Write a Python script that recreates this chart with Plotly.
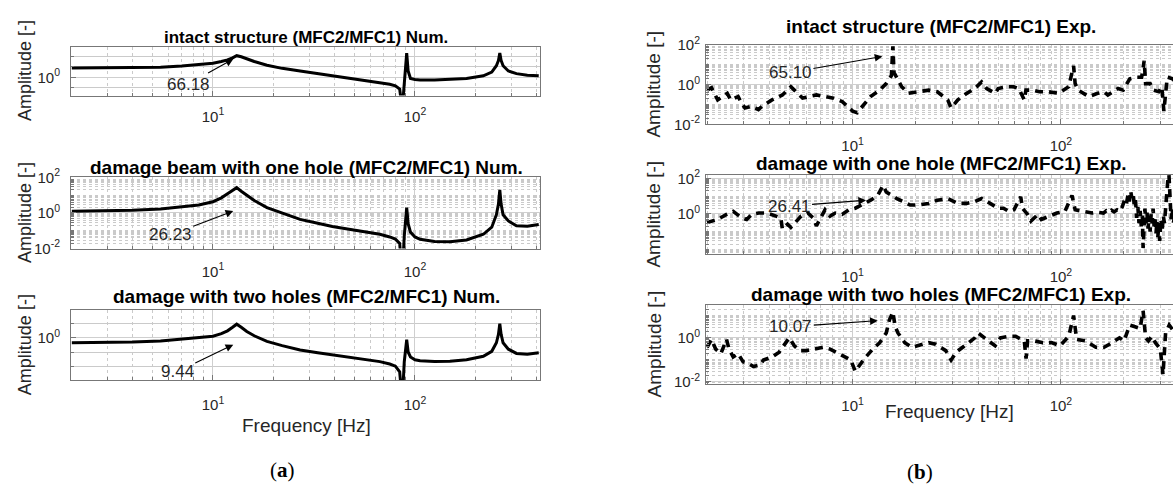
import math
import plotly.graph_objects as go

# ---------------- data ----------------
FREQ_NUM = [2, 3, 4, 5.5, 7, 8.5, 10, 11, 11.8, 12.5, 13.1, 13.8, 14.7, 16, 18.5, 22, 27, 33, 39, 48,
            58, 67, 75, 80, 84, 86.5, 88.5, 90, 91, 92.5, 95, 100, 106, 125, 149, 180, 218, 240, 253,
            259, 263, 267, 273, 290, 318, 360, 410]
AMP_NUM_INTACT = [7.59, 7.76, 7.94, 9.12, 12.0, 15.8, 21.4, 31.6, 44.7, 70.8, 112, 89.1, 56.2, 31.6,
                  14.1, 7.08, 3.98, 2.24, 1.51, 0.891, 0.501, 0.316, 0.224, 0.158, 0.0794, 0.001,
                  0.158, 6.31, 200, 3.98, 0.794, 0.631, 0.562, 0.562, 0.631, 0.794, 1.41, 3.16, 12.6,
                  39.8, 200, 39.8, 12.6, 3.98, 2.24, 1.58, 1.41]
AMP_NUM_ONE_HOLE = [1.23, 1.32, 1.41, 1.66, 2.14, 2.82, 4.27, 7.08, 12.0, 19.1, 26.3, 16.6, 9.77, 5.01,
                    2.0, 0.955, 0.437, 0.263, 0.174, 0.117, 0.0832, 0.0631, 0.0447, 0.0339, 0.0195,
                    0.000316, 0.0501, 0.398, 2.0, 0.251, 0.0832, 0.0447, 0.0331, 0.0251, 0.024, 0.0302,
                    0.0631, 0.158, 0.794, 3.16, 20.0, 3.16, 0.794, 0.355, 0.191, 0.178, 0.224]
AMP_NUM_TWO_HOLES = [0.457, 0.479, 0.513, 0.603, 0.794, 1.0, 1.32, 2.0, 3.16, 5.62, 9.33, 5.62, 2.82,
                     1.41, 0.562, 0.282, 0.141, 0.0891, 0.0631, 0.0417, 0.0282, 0.0209, 0.0141, 0.01,
                     0.00398, 0.0000316, 0.02, 0.126, 0.759, 0.1, 0.0447, 0.0282, 0.024, 0.0209,
                     0.0219, 0.0282, 0.0501, 0.112, 0.447, 1.78, 10.0, 1.78, 0.447, 0.158, 0.0794,
                     0.0708, 0.0891]

FREQ_EXP_INTACT = [2.0, 2.1, 2.25, 2.5, 2.6, 2.82, 2.93, 3.04, 3.27, 3.53, 3.67, 4.1, 4.6, 5.05, 5.25,
                   5.75, 6.2, 6.7, 7.4, 8.1, 8.9, 10.0, 10.5, 11.4, 12.2, 13.5, 14.5, 15.35, 15.6, 15.8,
                   16.3, 17.2, 18.5, 20.7, 23.2, 25.5, 28.6, 29.7, 32, 35.3, 38.6, 41.6, 44, 48.3, 50,
                   55.2, 59.3, 62.8, 66.7, 67.9, 73.3, 78.9, 86.7, 97.4, 109, 115, 117, 121, 136, 150,
                   161, 168, 188, 199, 214, 231, 244, 251, 255, 268, 278, 295, 305, 312, 324, 343, 360,
                   400]
AMP_EXP_INTACT = [0.525, 0.692, 0.17, 0.363, 0.17, 0.251, 0.117, 0.0676, 0.0813, 0.0562, 0.0813, 0.17,
                  0.302, 0.776, 0.525, 0.209, 0.251, 0.302, 0.251, 0.209, 0.141, 0.0468, 0.0389, 0.1,
                  0.251, 0.525, 1.12, 2.82, 83.2, 3.98, 2.34, 0.776, 0.363, 0.437, 0.525, 0.437, 0.17,
                  0.0676, 0.17, 0.363, 0.631, 1.35, 0.631, 0.363, 0.631, 0.776, 0.776, 0.631, 0.17,
                  0.525, 0.525, 0.437, 0.437, 0.363, 0.776, 8.71, 1.12, 0.525, 0.251, 0.363, 0.437,
                  0.302, 0.631, 0.525, 1.95, 2.34, 2.34, 15.5, 1.12, 1.12, 0.525, 0.437, 0.776, 0.0468,
                  2.34, 1.95, 1.26, 1.58]

FREQ_EXP_ONE = [2.0, 2.1, 2.25, 2.48, 2.67, 2.93, 3.1, 3.28, 3.54, 3.89, 4.27, 4.52, 4.6, 4.87, 5.05,
                5.35, 5.66, 6.1, 6.46, 6.7, 6.97, 7.37, 7.79, 8.25, 8.9, 9.6, 10.3, 11.4, 12.2, 13.2,
                14.0, 14.5, 15.35, 16.3, 17.5, 18.9, 20.7, 23.2, 25.5, 28.6, 32, 35.3, 38.6, 41.6, 45.7,
                50, 53, 56.2, 59.5, 64.1, 65.4, 69.2, 71.8, 77.6, 80.5, 88.5, 95.6, 104.5, 113, 117, 126,
                141, 150, 160, 165, 170, 175, 180, 186, 192, 197, 202, 206, 210, 213, 216, 219, 222, 225,
                228, 231, 234, 237, 240, 243, 246, 248, 250, 253, 256, 259, 262, 265, 268, 271, 274, 277,
                280, 283, 286, 289, 292, 295, 298, 302, 306, 310, 314, 318, 322, 326, 330, 334, 338, 342,
                346, 360, 380, 400]
AMP_EXP_ONE = [0.324, 0.398, 0.49, 0.933, 1.38, 0.603, 0.49, 0.933, 1.12, 1.12, 0.759, 0.603, 0.141,
               0.263, 0.174, 0.398, 0.759, 1.12, 0.603, 0.214, 0.49, 1.7, 0.759, 1.12, 0.933, 1.7, 2.09,
               3.89, 5.89, 11.0, 40.0, 17.0, 11.0, 7.24, 4.9, 3.16, 3.16, 3.89, 5.89, 7.24, 3.89, 3.89,
               4.9, 7.24, 3.89, 2.09, 2.09, 1.38, 1.7, 9.12, 2.09, 0.933, 0.398, 0.933, 0.49, 0.759,
               1.12, 1.38, 11.0, 1.7, 1.38, 1.12, 1.25, 1.12, 1.5, 1.2, 1.6, 1.3, 1.7, 1.4, 2.5, 6.0,
               3.5, 12.0, 5.0, 20.0, 8.0, 15.0, 3.0, 6.0, 0.6, 2.5, 0.3, 1.5, 0.2, 0.8, 0.012, 0.6, 2.0,
               0.3, 1.2, 0.15, 0.8, 0.1, 1.0, 0.3, 2.0, 0.2, 0.5, 0.08, 0.4, 0.05, 0.3, 0.03, 0.5, 0.1,
               0.8, 0.3, 3.0, 20.0, 80.0, 160.0, 10.0, 0.5, 2.0, 0.3, 2.0, 1.0, 2.0]

FREQ_EXP_TWO = [2.0, 2.1, 2.2, 2.33, 2.48, 2.55, 2.67, 2.82, 2.98, 3.15, 3.34, 3.6, 3.73, 4.1, 4.44,
                4.96, 5.25, 5.56, 6.0, 6.6, 7.2, 7.8, 8.9, 9.8, 10.3, 11.4, 12.5, 13.5, 14.5, 15.0, 15.6,
                16.0, 16.5, 17.8, 19.2, 20.7, 23.2, 25, 28, 29.7, 31.4, 35.3, 38.6, 40, 44, 48.3, 51.2,
                56, 60.6, 66.7, 68, 69.2, 74.4, 82, 90, 99, 109, 115, 119, 131, 147, 161, 171, 191, 201,
                214, 225, 240, 248, 255, 263, 273, 284, 300, 309, 318, 331, 344, 370, 400]
AMP_EXP_TWO = [0.372, 0.851, 0.309, 0.191, 0.851, 0.309, 0.135, 0.191, 0.0813, 0.0692, 0.0501, 0.0589,
               0.0977, 0.135, 0.224, 1.0, 0.437, 0.263, 0.263, 0.309, 0.372, 0.309, 0.158, 0.0977,
               0.0302, 0.115, 0.309, 0.603, 1.66, 6.31, 15.0, 3.24, 1.66, 0.603, 0.372, 0.437, 0.603,
               0.513, 0.263, 0.0977, 0.224, 0.513, 1.0, 1.66, 0.851, 0.437, 1.0, 1.17, 1.17, 0.724,
               0.115, 0.724, 0.724, 0.603, 0.603, 0.437, 1.17, 10.2, 0.851, 0.724, 0.372, 0.372, 0.513,
               1.0, 0.724, 3.8, 3.24, 2.69, 17.0, 1.0, 0.724, 1.17, 0.603, 0.309, 0.0214, 1.66, 3.8,
               2.29, 1.58, 2.0]

TITLES_NUM = ["intact structure (MFC2/MFC1) Num.",
              "damage beam with one hole (MFC2/MFC1) Num.",
              "damage with two holes (MFC2/MFC1) Num."]
TITLES_EXP = ["intact structure (MFC2/MFC1) Exp.",
              "damage with one hole (MFC2/MFC1) Exp.",
              "damage with two holes (MFC2/MFC1) Exp."]
PEAK_LABELS_NUM = ["66.18", "26.23", "9.44"]
PEAK_LABELS_EXP = ["65.10", "26.41", "10.07"]

X_TICKS = [10, 100]
X_TICKTEXT = ["10<sup>1</sup>", "10<sup>2</sup>"]

# ---------------- layout helpers ----------------
W, H = 1173, 495
FONT = "Liberation Sans, Arial, sans-serif"
AX = "#777777"
GRID = "#cfcfcf"
MINOR = "#cacaca"
TXT = "#262626"


def fx(p):
    return p / W


def fy(p):
    return 1 - p / H


X_MINOR = [m * 10 ** e for e in range(0, 3) for m in range(2, 10)]


def sup(e):
    return "10<sup>%d</sup>" % e


def xaxis(dom, rng, anchor, standoff):
    return dict(type="log", domain=[fx(dom[0]), min(1.0, fx(dom[1]))], range=rng, anchor=anchor,
                showline=True, linecolor=AX, linewidth=1, mirror=True,
                ticks="inside", ticklen=5, tickcolor=AX,
                tickmode="array", tickvals=X_TICKS, ticktext=X_TICKTEXT,
                tickfont=dict(family=FONT, size=15, color=TXT), ticklabelstandoff=standoff,
                showgrid=True, gridcolor=GRID, gridwidth=1, zeroline=False,
                minor=dict(tickmode="array", tickvals=X_MINOR, showgrid=True, gridcolor=MINOR,
                           griddash="dot", gridwidth=1, ticks="inside", ticklen=3, tickcolor=AX))


def yaxis(dom, rng, anchor, labels, dense, standoff, mirror=True):
    lo, hi = int(math.floor(rng[0])), int(math.ceil(rng[1]))
    decades = list(range(lo, hi + 1))
    vals = [10 ** e for e in labels]
    text = [sup(e) for e in labels]
    other = [10 ** e for e in decades if e not in labels]
    if dense:
        other += [m * 10 ** e for e in decades for m in range(2, 10)]
        mdash = "dot"
    else:
        mdash = "solid"
    return dict(type="log", domain=[fy(dom[1]), fy(dom[0])], range=rng, anchor=anchor,
                showline=True, linecolor=AX, linewidth=1, mirror=mirror,
                ticks="inside", ticklen=5, tickcolor=AX,
                tickmode="array", tickvals=vals, ticktext=text,
                tickfont=dict(family=FONT, size=15, color=TXT), ticklabelstandoff=standoff,
                showgrid=True, gridcolor=GRID, gridwidth=1, zeroline=False,
                minor=dict(tickmode="array", tickvals=other, showgrid=True, gridcolor=MINOR,
                           griddash=mdash, gridwidth=1, ticks="inside", ticklen=3, tickcolor=AX))


A_X = (71, 540)
B_X = (706, 1173)
A_XR = [0.297, 2.619]
B_XR = [0.296, 2.538]
A_Y = [(37, 88), (173, 247), (311, 384)]
B_Y = [(35, 118), (170.5, 253), (305.5, 388)]
A_YR = [[-1.73, 2.91], [-2, 2], [-3, 1.97]]
B_YR = [[-2, 2], [-2.27, 2.19], [-2.1, 1.5]]
A_LAB = [[0], [-2, 0, 2], [0]]
B_LAB = [[-2, 0, 2], [0, 2], [-2, 0]]
A_DENSE = [False, True, False]
A_XSTAND = [7, 9, 11]
B_XSTAND = [8, 9, 8]

fig = go.Figure()
layout = dict(width=W, height=H, margin=dict(l=0, r=0, t=0, b=0),
              paper_bgcolor="white", plot_bgcolor="white", showlegend=False)

num_series = [AMP_NUM_INTACT, AMP_NUM_ONE_HOLE, AMP_NUM_TWO_HOLES]
exp_series = [(FREQ_EXP_INTACT, AMP_EXP_INTACT), (FREQ_EXP_ONE, AMP_EXP_ONE),
              (FREQ_EXP_TWO, AMP_EXP_TWO)]

for i in range(3):
    k = i + 1
    xs = "x" if k == 1 else "x%d" % k
    ys = "y" if k == 1 else "y%d" % k
    layout["xaxis" if k == 1 else "xaxis%d" % k] = xaxis(A_X, A_XR, ys, A_XSTAND[i])
    layout["yaxis" if k == 1 else "yaxis%d" % k] = yaxis(A_Y[i], A_YR[i], xs, A_LAB[i],
                                                         A_DENSE[i], 7)
    fig.add_trace(go.Scatter(x=FREQ_NUM, y=num_series[i], mode="lines", xaxis=xs, yaxis=ys,
                             line=dict(color="black", width=3), hoverinfo="skip"))

for i in range(3):
    k = i + 4
    xs, ys = "x%d" % k, "y%d" % k
    layout["xaxis%d" % k] = xaxis(B_X, B_XR, ys, B_XSTAND[i])
    layout["yaxis%d" % k] = yaxis(B_Y[i], B_YR[i], xs, B_LAB[i], True, 2, mirror=False)
    fxs, fys = exp_series[i]
    fig.add_trace(go.Scatter(x=fxs, y=fys, mode="lines", xaxis=xs, yaxis=ys,
                             line=dict(color="black", width=3.6, dash="8px,6px"), hoverinfo="skip"))

ann = []
for t, yc, sz in zip(TITLES_NUM, [27.5, 163, 297], [17, 19, 19]):
    ann.append(dict(text="<b>%s</b>" % t, x=fx(306), y=fy(yc), xref="paper", yref="paper",
                    showarrow=False, font=dict(family=FONT, size=sz, color="black"),
                    xanchor="center", yanchor="middle"))
for t, yc in zip(TITLES_EXP, [16, 159, 295]):
    ann.append(dict(text="<b>%s</b>" % t, x=fx(941), y=fy(yc), xref="paper", yref="paper",
                    showarrow=False, font=dict(family=FONT, size=19, color="black"),
                    xanchor="center", yanchor="middle"))

for dom in A_Y:
    ann.append(dict(text="Amplitude [-]", x=fx(25), y=fy((dom[0] + dom[1]) / 2), xref="paper",
                    yref="paper", showarrow=False, textangle=-90,
                    font=dict(family=FONT, size=18, color=TXT), xanchor="center", yanchor="middle"))
for dom in B_Y:
    ann.append(dict(text="Amplitude [-]", x=fx(654), y=fy((dom[0] + dom[1]) / 2), xref="paper",
                    yref="paper", showarrow=False, textangle=-90,
                    font=dict(family=FONT, size=19, color=TXT), xanchor="center", yanchor="middle"))
ann.append(dict(text="Frequency [Hz]", x=fx(306), y=fy(431), xref="paper", yref="paper",
                showarrow=False, font=dict(family=FONT, size=19, color=TXT),
                xanchor="center", yanchor="middle"))
ann.append(dict(text="Frequency [Hz]", x=fx(949), y=fy(416), xref="paper", yref="paper",
                showarrow=False, font=dict(family=FONT, size=19, color=TXT),
                xanchor="center", yanchor="middle"))
ser = dict(family="Liberation Serif, DejaVu Serif, serif", size=21, color="black")
ann.append(dict(text="(<b>a</b>)", x=fx(282), y=fy(477), xref="paper", yref="paper",
                showarrow=False, font=ser, xanchor="center", yanchor="middle"))
ann.append(dict(text="(<b>b</b>)", x=fx(920), y=fy(479), xref="paper", yref="paper",
                showarrow=False, font=ser, xanchor="center", yanchor="middle"))

# peak arrows: tip (freq, amplitude) and text offset in pixels
num_tips = [(12.6, 53.7, -45, 25), (12.6, 1.29, -63, 24), (12.6, 0.33, -56, 27)]
exp_tips = [(13.9, 25.7, -92, 16), (11.6, 5.9, -77, 6), (13.2, 6.0, -87, 6)]
num_font = dict(family=FONT, size=17, color=TXT)
for i, (lab, tip) in enumerate(zip(PEAK_LABELS_NUM, num_tips)):
    k = i + 1
    ann.append(dict(text=lab, x=math.log10(tip[0]), y=math.log10(tip[1]),
                    xref="x" if k == 1 else "x%d" % k, yref="y" if k == 1 else "y%d" % k,
                    ax=tip[2], ay=tip[3], showarrow=True, arrowhead=2, arrowsize=1.4,
                    arrowwidth=1.1, arrowcolor="black", font=num_font, standoff=0))
for i, (lab, tip) in enumerate(zip(PEAK_LABELS_EXP, exp_tips)):
    k = i + 4
    ann.append(dict(text=lab, x=math.log10(tip[0]), y=math.log10(tip[1]),
                    xref="x%d" % k, yref="y%d" % k,
                    ax=tip[2], ay=tip[3], showarrow=True, arrowhead=2, arrowsize=1.4,
                    arrowwidth=1.1, arrowcolor="black", font=num_font, standoff=0))

layout["annotations"] = ann
fig.update_layout(**layout)
fig.write_html("out.html")
